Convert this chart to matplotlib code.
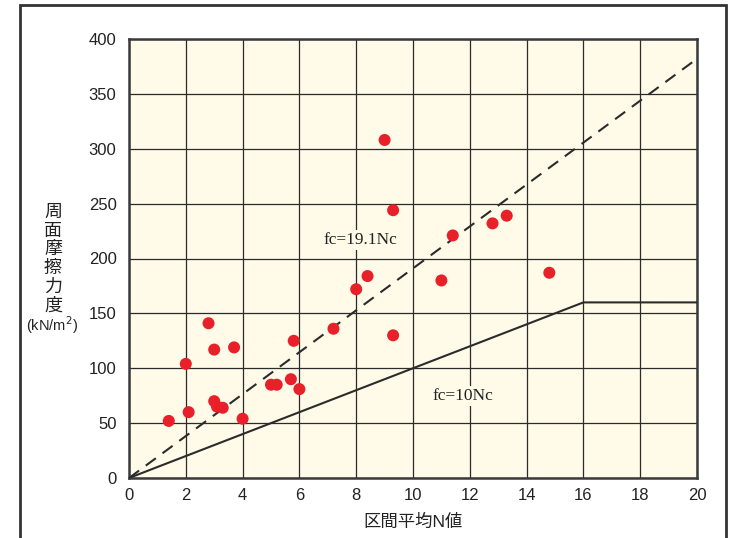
import numpy as np
import matplotlib.pyplot as plt
from matplotlib.patches import Rectangle

plt.rcParams['font.family'] = ['Liberation Sans', 'Noto Sans CJK JP', 'DejaVu Sans']

# 区間平均N値 と 周面摩擦力度 (kN/m2)
n_val = [9.0, 9.3, 8.4, 8.0, 11.0, 9.3, 7.2, 5.8, 2.8, 3.0, 3.7, 2.0, 5.0,
         5.2, 5.7, 6.0, 3.0, 3.1, 3.3, 2.1, 1.4, 4.0, 13.3, 12.8, 11.4, 14.8]
fc_val = [308, 244, 184, 172, 180, 130, 136, 125, 141, 117, 119, 104, 85,
          85, 90, 81, 70, 65, 64, 60, 52, 54, 239, 232, 221, 187]

# 推定式
n_line = [0, 20]
fc_upper = [19.1 * n for n in n_line]
n_lower = [0, 16, 20]
fc_lower = [10 * min(n, 16) for n in n_lower]

bg = '#fffbe8'
dark = '#2b2b2b'

fig = plt.figure(figsize=(7.5, 5.38), dpi=100)
ax = fig.add_axes([129/750, 1 - 478/538, 568/750, 439/538])
ax.set_facecolor(bg)

ax.set_xlim(0, 20)
ax.set_ylim(0, 400)
ax.set_xticks(np.arange(0, 21, 2))
ax.set_yticks(np.arange(0, 401, 50))
ax.grid(True, color=dark, linewidth=0.9)
ax.set_axisbelow(True)
ax.tick_params(length=0, labelsize=12, colors='#222222')
ax.tick_params(axis='y', pad=9)
ax.tick_params(axis='x', pad=7)
for s in ax.spines.values():
    s.set_linewidth(1.8)
    s.set_color('#3a3a3a')

ax.plot(n_line, fc_upper, color=dark, linewidth=1.5, dashes=(6, 4), zorder=3)
ax.plot(n_lower, fc_lower, color=dark, linewidth=1.5, zorder=3)
ax.scatter(n_val, fc_val, s=75, color='#e8202a', edgecolors='none', zorder=4)

box = dict(facecolor=bg, edgecolor='none', pad=1.5)
ax.text(8.13, 217, 'fc=19.1Nc', family='Liberation Serif', fontsize=12.5,
        ha='center', va='center', bbox=box, color='#222222', zorder=3.5)
ax.text(11.74, 75, 'fc=10Nc', family='Liberation Serif', fontsize=12.5,
        ha='center', va='center', bbox=box, color='#222222', zorder=3.5)

ax.set_xlabel('区間平均N値', fontsize=12.5, labelpad=8, color='#222222')

# 縦書きの軸ラベル
for i, ch in enumerate('周面摩擦力度'):
    fig.text(53/750, 1 - (212 + i * 18.7)/538, ch, fontsize=13,
             ha='center', va='center', family=['Noto Sans CJK JP'],
             color='#222222')
fig.text(52/750, 1 - 325/538, '(kN/m$^2$)', fontsize=10.5, ha='center',
         va='center', color='#222222')

# 外枠
fig.patches.append(Rectangle((20/750, -0.05), 706/750, 1.05 - 5/538,
                             transform=fig.transFigure, fill=False,
                             edgecolor='#333333', linewidth=2))

fig.savefig('out.png', dpi=100)
